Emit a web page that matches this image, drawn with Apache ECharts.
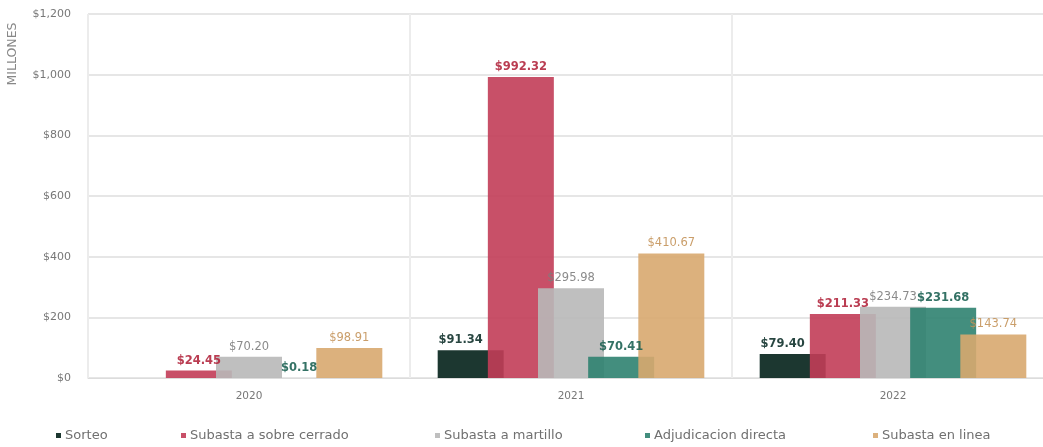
<!DOCTYPE html>
<html>
<head>
<meta charset="utf-8">
<script src="https://cdn.jsdelivr.net/npm/echarts@6/dist/echarts.min.js"></script>
<style>
html,body{margin:0;padding:0;background:#fff;overflow:hidden;}
#c{width:1054px;height:447px;}
</style>
</head>
<body>
<div id="c"></div>
<script>
const categories = ['2020', '2021', '2022'];
const sorteo = [null, 91.34, 79.40];
const sobreCerrado = [24.45, 992.32, 211.33];
const martillo = [70.20, 295.98, 234.73];
const adjudicacion = [0.18, 70.41, 231.68];
const enLinea = [98.91, 410.67, 143.74];
const yTicks = [0, 200, 400, 600, 800, 1000, 1200];

const names = ['Sorteo', 'Subasta a sobre cerrado', 'Subasta a martillo', 'Adjudicacion directa', 'Subasta en linea'];
const dataSets = [sorteo, sobreCerrado, martillo, adjudicacion, enLinea];
const colors = ['#03211a', '#c23d58', '#b8b8b8', '#2f8270', '#d8a96f'];
const labelColors = ['#10312b', '#b3283f', '#7d7d7d', '#1e6354', '#c4935a'];
const labelWeights = ['bold', '600', 'normal', 'bold', 'normal'];
const labelOffsets = [[-10, 0], [0, 0], [0, 0], [0, 0], [0, 0]];
const legendLeft = [56, 181, 435, 645, 873];

const font = 'DejaVu Sans';
function fmtMoney(v) {
  return '$' + v.toFixed(2);
}

const series = names.map((n, i) => ({
  name: n,
  type: 'bar',
  data: dataSets[i],
  barWidth: 66,
  barGap: '-24%',
  itemStyle: { color: colors[i], opacity: 0.9 },
  label: {
    show: true,
    position: 'top',
    distance: 4,
    offset: labelOffsets[i],
    color: labelColors[i],
    fontFamily: font,
    fontSize: 11.5,
    fontWeight: labelWeights[i],
    formatter: p => (p.value == null ? '' : fmtMoney(p.value))
  }
}));

const legends = names.map((n, i) => ({
  data: [n],
  left: legendLeft[i],
  top: 429,
  padding: 0,
  icon: 'rect',
  itemWidth: 5,
  itemHeight: 5,
  itemGap: 0,
  textStyle: { fontFamily: font, fontSize: 13, color: '#707070', padding: [0, 0, 0, -1] }
}));

const chart = echarts.init(document.getElementById('c'), null, { renderer: 'canvas' });
chart.setOption({
  animation: false,
  backgroundColor: '#ffffff',
  grid: { left: 88, right: 0, top: 14, bottom: 69, containLabel: false },
  legend: legends,
  xAxis: {
    type: 'category',
    data: categories,
    axisLine: { show: true, lineStyle: { color: '#dcdcdc', width: 1 } },
    axisTick: { show: false },
    axisLabel: { color: '#777', fontFamily: font, fontSize: 10.5, margin: 13 },
    splitLine: { show: true, lineStyle: { color: '#ececec', width: 2 } }
  },
  yAxis: {
    type: 'value',
    min: 0,
    max: 1200,
    interval: 200,
    axisLine: { show: false },
    axisTick: { show: false },
    axisLabel: {
      color: '#777', fontFamily: font, fontSize: 11, margin: 17,
      formatter: v => '$' + v.toLocaleString('en-US')
    },
    splitLine: { show: true, lineStyle: { color: '#e6e6e6', width: 2 } }
  },
  graphic: [{
    type: 'text',
    x: 13, y: 54,
    rotation: Math.PI / 2,
    style: {
      text: 'MILLONES',
      fill: '#888',
      font: '12.5px "DejaVu Sans"',
      textAlign: 'center',
      textVerticalAlign: 'middle'
    }
  }],
  series: series
});
</script>
</body>
</html>
